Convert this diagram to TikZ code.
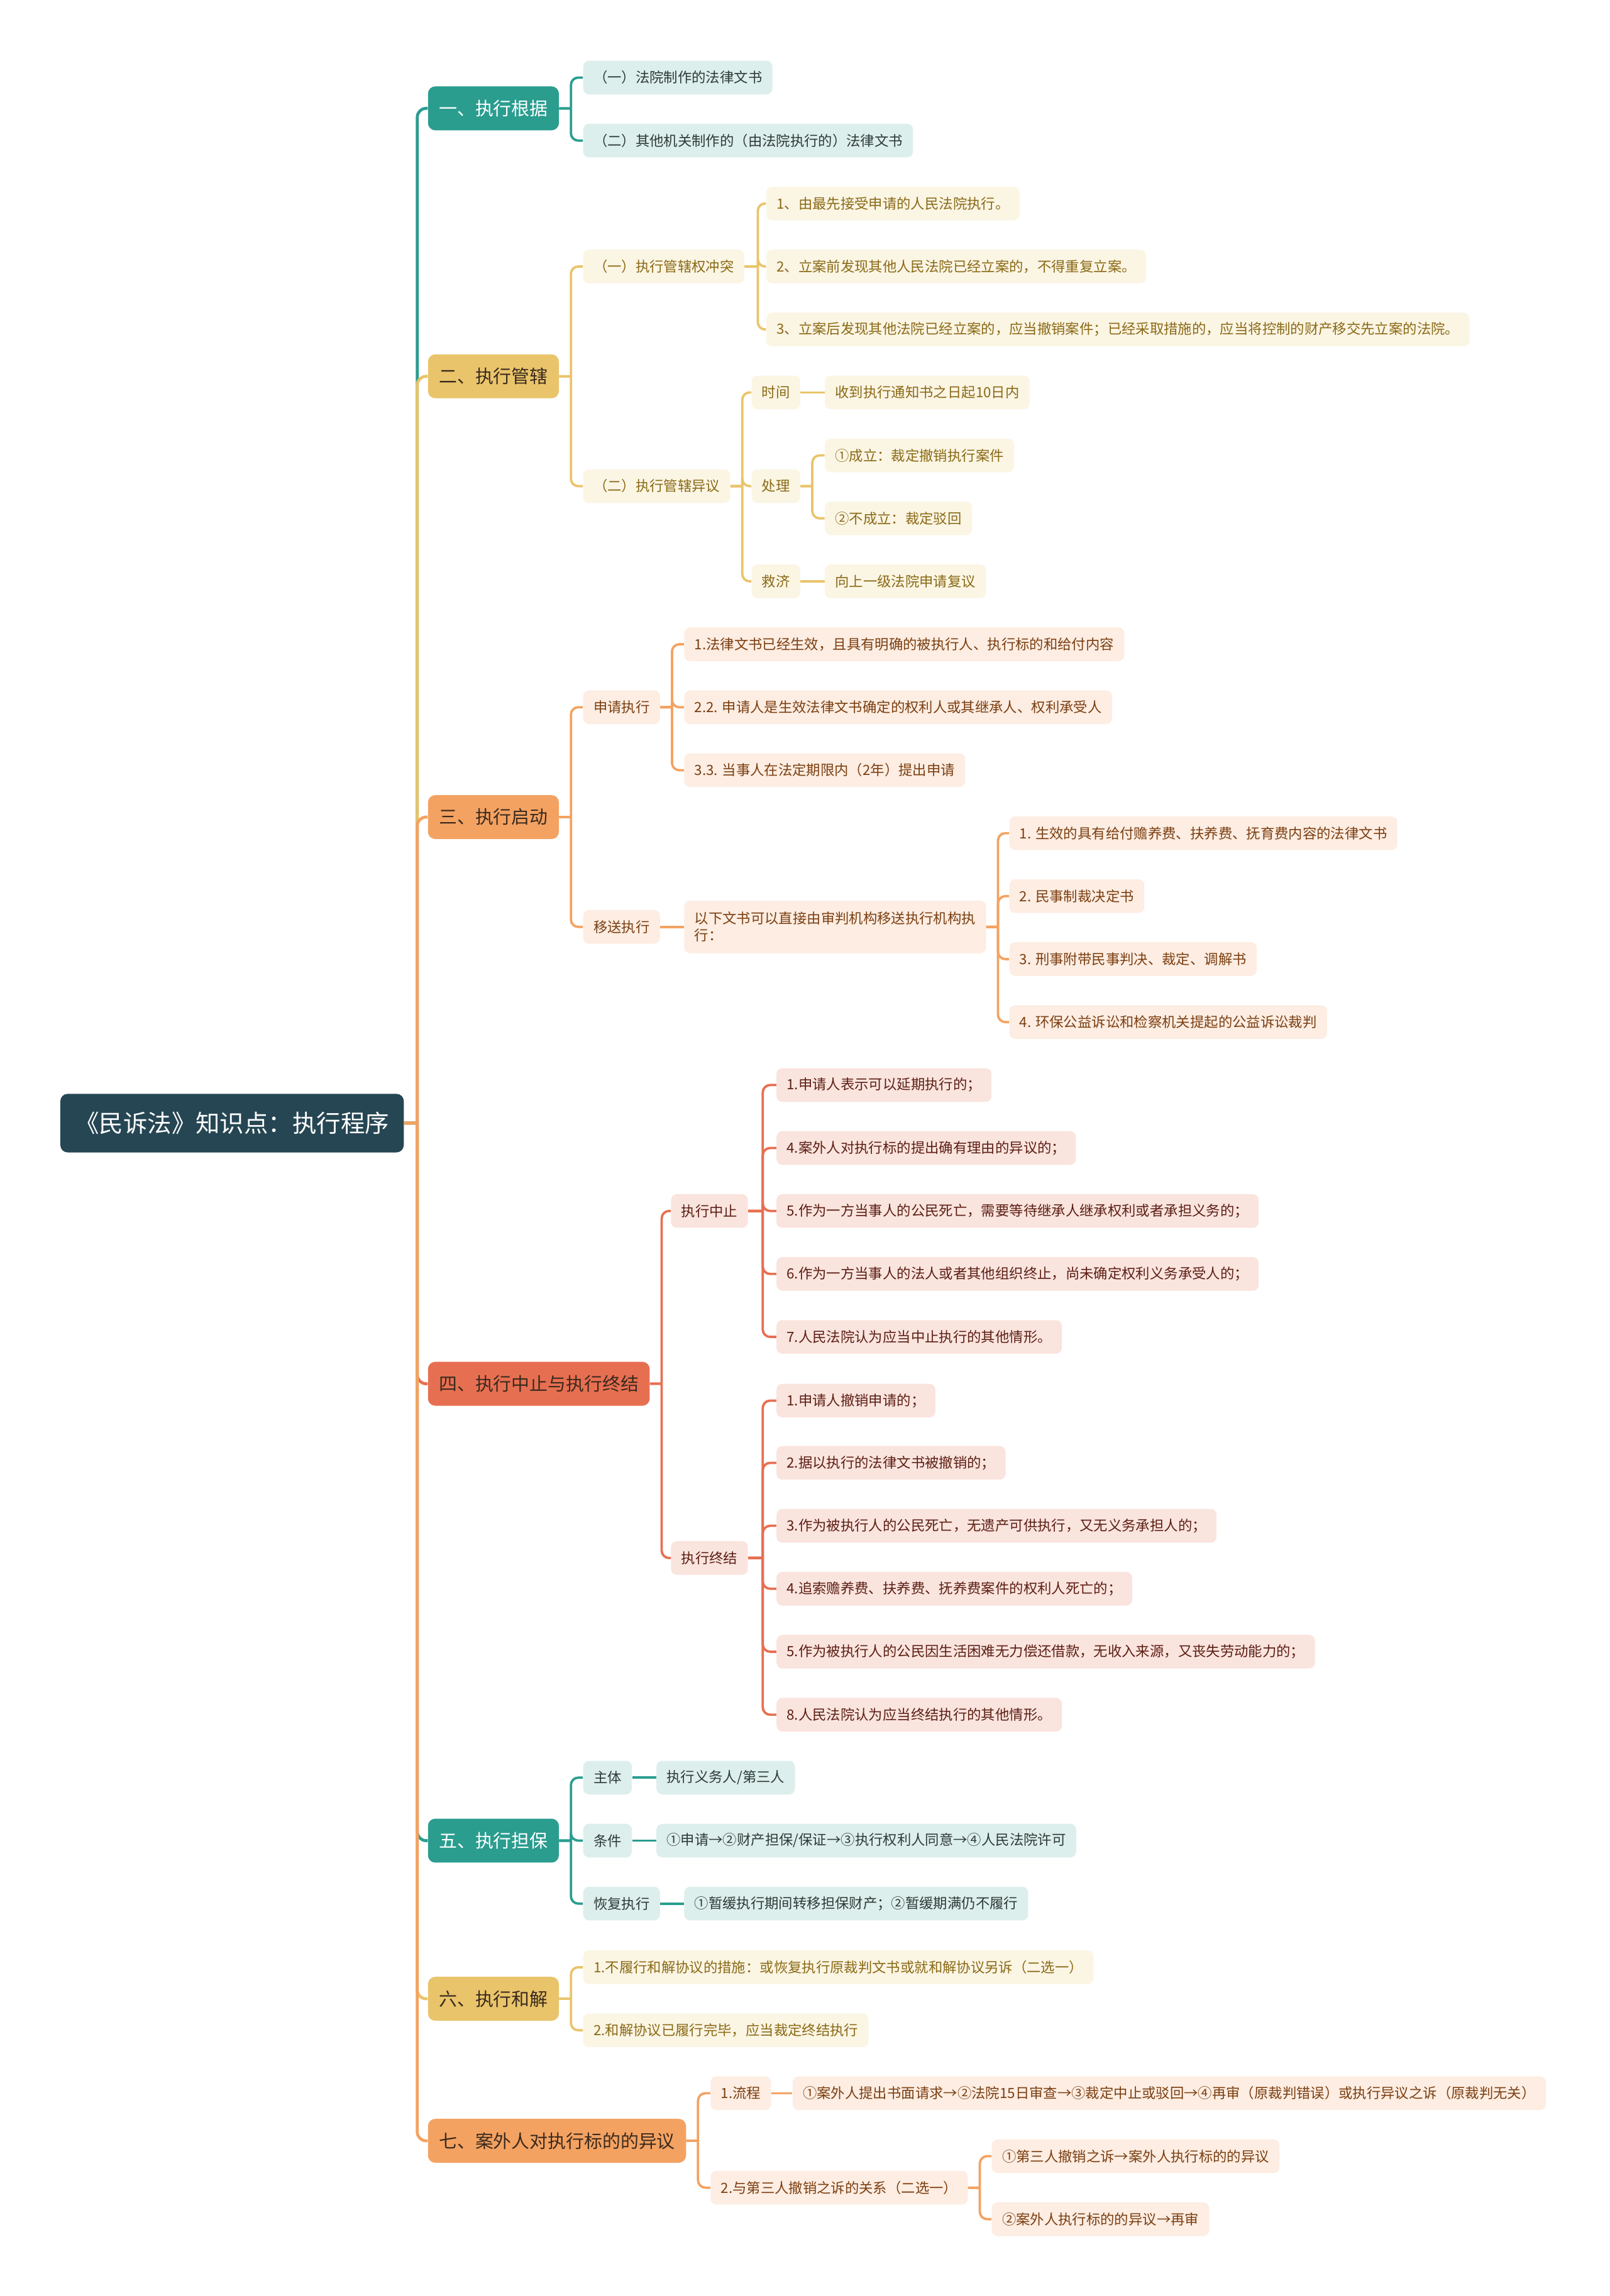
\documentclass[tikz,border=0pt]{standalone}
\usepackage{fontspec}
\setmainfont{Noto Sans CJK SC}
\usepackage{xcolor}
\usepackage{tikz}
\definecolor{rootblue}{HTML}{264653}
\definecolor{tealmain}{HTML}{2A9D8F}
\definecolor{yelmain}{HTML}{E9C46A}
\definecolor{oramain}{HTML}{F4A261}
\definecolor{redmain}{HTML}{E76F51}
\definecolor{teallight}{HTML}{DDEFEC}
\definecolor{yellight}{HTML}{FBF5E4}
\definecolor{oralight}{HTML}{FDEDE2}
\definecolor{redlight}{HTML}{FAE4DE}
\definecolor{tealtext}{HTML}{2E3A38}
\definecolor{yeltext}{HTML}{8A6A16}
\definecolor{oratext}{HTML}{7B3F12}
\definecolor{redtext}{HTML}{5C1F14}
\definecolor{maintext}{HTML}{3A2A1E}

\begin{document}
\begin{tikzpicture}[x=1pt, y=-1pt,
    every node/.style={font=\fontsize{9.6}{11.5}\selectfont, anchor=west, rounded corners=4pt, inner xsep=7pt, inner ysep=3pt, minimum height=23pt},
    rootbox/.style={fill=rootblue, text=white, font=\fontsize{16.5}{20}\selectfont, minimum height=40pt, inner xsep=10pt, rounded corners=5pt},
    mainbox/.style={fill=#1, text=maintext, font=\fontsize{12.4}{15}\selectfont, minimum height=30pt, inner xsep=7.5pt, rounded corners=5pt},
    tealleaf/.style={fill=teallight, text=tealtext},
    yelleaf/.style={fill=yellight, text=yeltext},
    oraleaf/.style={fill=oralight, text=oratext},
    redleaf/.style={fill=redlight, text=redtext},
    link/.style={draw=#1, line width=1.6pt, rounded corners=5pt},
    trunk/.style={draw=#1, line width=2pt, rounded corners=6pt}]
    \fill[white] (0,0) rectangle (1099,1568);
    \useasboundingbox (0,0) rectangle (1099,1568);

    % Root
    \node[rootbox] (root) at (41,767) {《民诉法》知识点：执行程序};

    % Main topics
    \node[mainbox=tealmain, text=white] (n1) at (292,74) {一、执行根据};
    \node[mainbox=yelmain] (n2) at (292,257) {二、执行管辖};
    \node[mainbox=oramain] (n3) at (292,558) {三、执行启动};
    \node[mainbox=redmain] (n4) at (292,945) {四、执行中止与执行终结};
    \node[mainbox=tealmain, text=white] (n5) at (292,1257) {五、执行担保};
    \node[mainbox=yelmain] (n6) at (292,1365) {六、执行和解};
    \node[mainbox=oramain] (n7) at (292,1462) {七、案外人对执行标的的异议};

    % Basis
    \node[tealleaf] (a1) at (398,53) {（一）法院制作的法律文书};
    \node[tealleaf] (a2) at (398,96) {（二）其他机关制作的（由法院执行的）法律文书};

    % Jurisdiction
    \node[yelleaf] (b1) at (398,182) {（一）执行管辖权冲突};
    \node[yelleaf] (b11) at (523,139) {1、由最先接受申请的人民法院执行。};
    \node[yelleaf] (b12) at (523,182) {2、立案前发现其他人民法院已经立案的，不得重复立案。};
    \node[yelleaf] (b13) at (523,225) {3、立案后发现其他法院已经立案的，应当撤销案件；已经采取措施的，应当将控制的财产移交先立案的法院。};
    \node[yelleaf] (b2) at (398,332) {（二）执行管辖异议};
    \node[yelleaf] (b21) at (513,268) {时间};
    \node[yelleaf] (b22) at (513,332) {处理};
    \node[yelleaf] (b23) at (513,397) {救济};
    \node[yelleaf] (b211) at (563,268) {收到执行通知书之日起10日内};
    \node[yelleaf] (b221) at (563,311) {①成立：裁定撤销执行案件};
    \node[yelleaf] (b222) at (563,354) {②不成立：裁定驳回};
    \node[yelleaf] (b231) at (563,397) {向上一级法院申请复议};

    % Start
    \node[oraleaf] (c1) at (398,483) {申请执行};
    \node[oraleaf] (c11) at (467,440) {1.法律文书已经生效，且具有明确的被执行人、执行标的和给付内容};
    \node[oraleaf] (c12) at (467,483) {2.2. 申请人是生效法律文书确定的权利人或其继承人、权利承受人};
    \node[oraleaf] (c13) at (467,526) {3.3. 当事人在法定期限内（2年）提出申请};
    \node[oraleaf] (c2) at (398,633) {移送执行};
    \node[oraleaf, align=left, minimum height=36pt] (c21) at (467,633) {以下文书可以直接由审判机构移送执行机构执\\行：};
    \node[oraleaf] (c211) at (689,569) {1. 生效的具有给付赡养费、扶养费、抚育费内容的法律文书};
    \node[oraleaf] (c212) at (689,612) {2. 民事制裁决定书};
    \node[oraleaf] (c213) at (689,655) {3. 刑事附带民事判决、裁定、调解书};
    \node[oraleaf] (c214) at (689,698) {4. 环保公益诉讼和检察机关提起的公益诉讼裁判};

    % Suspension and termination
    \node[redleaf] (d1) at (458,827) {执行中止};
    \node[redleaf] (d11) at (530,741) {1.申请人表示可以延期执行的；};
    \node[redleaf] (d12) at (530,784) {4.案外人对执行标的提出确有理由的异议的；};
    \node[redleaf] (d13) at (530,827) {5.作为一方当事人的公民死亡，需要等待继承人继承权利或者承担义务的；};
    \node[redleaf] (d14) at (530,870) {6.作为一方当事人的法人或者其他组织终止，尚未确定权利义务承受人的；};
    \node[redleaf] (d15) at (530,913) {7.人民法院认为应当中止执行的其他情形。};
    \node[redleaf] (d2) at (458,1064) {执行终结};
    \node[redleaf] (d21) at (530,956.5) {1.申请人撤销申请的；};
    \node[redleaf] (d22) at (530,999) {2.据以执行的法律文书被撤销的；};
    \node[redleaf] (d23) at (530,1042) {3.作为被执行人的公民死亡，无遗产可供执行，又无义务承担人的；};
    \node[redleaf] (d24) at (530,1085) {4.追索赡养费、扶养费、抚养费案件的权利人死亡的；};
    \node[redleaf] (d25) at (530,1128) {5.作为被执行人的公民因生活困难无力偿还借款，无收入来源，又丧失劳动能力的；};
    \node[redleaf] (d26) at (530,1171) {8.人民法院认为应当终结执行的其他情形。};

    % Guarantee
    \node[tealleaf] (e1) at (398,1214) {主体};
    \node[tealleaf] (e11) at (448,1214) {执行义务人/第三人};
    \node[tealleaf] (e2) at (398,1257) {条件};
    \node[tealleaf] (e21) at (448,1257) {①申请→②财产担保/保证→③执行权利人同意→④人民法院许可};
    \node[tealleaf] (e3) at (398,1300) {恢复执行};
    \node[tealleaf] (e31) at (467,1300) {①暂缓执行期间转移担保财产；②暂缓期满仍不履行};

    % Settlement
    \node[yelleaf] (f1) at (398,1343.5) {1.不履行和解协议的措施：或恢复执行原裁判文书或就和解协议另诉（二选一）};
    \node[yelleaf] (f2) at (398,1386.5) {2.和解协议已履行完毕，应当裁定终结执行};

    % Objection
    \node[oraleaf] (g1) at (485,1429.5) {1.流程};
    \node[oraleaf] (g11) at (541,1429.5) {①案外人提出书面请求→②法院15日审查→③裁定中止或驳回→④再审（原裁判错误）或执行异议之诉（原裁判无关）};
    \node[oraleaf] (g2) at (485,1494) {2.与第三人撤销之诉的关系（二选一）};
    \node[oraleaf] (g21) at (677,1472.5) {①第三人撤销之诉→案外人执行标的的异议};
    \node[oraleaf] (g22) at (677,1515.5) {②案外人执行标的的异议→再审};

    % Trunk connectors
    \draw[trunk=tealmain] (root.east) -- ++(9,0) ++(0,0) |- (n1.west);
    \draw[trunk=yelmain] (root.east) -- ++(9,0) ++(0,0) |- (n2.west);
    \draw[trunk=oramain] (root.east) -- ++(9,0) ++(0,0) |- (n3.west);
    \draw[trunk=redmain] (root.east) -- ++(9,0) ++(0,0) |- (n4.west);
    \draw[trunk=tealmain] (root.east) -- ++(9,0) ++(0,0) |- (n5.west);
    \draw[trunk=yelmain] (root.east) -- ++(9,0) ++(0,0) |- (n6.west);
    \draw[trunk=oramain] (root.east) -- ++(9,0) ++(0,0) |- (n7.west);

    % Branch connectors
    \draw[link=tealmain] (n1.east) -- ++(8,0) ++(0,0) |- (a1.west);
    \draw[link=tealmain] (n1.east) -- ++(8,0) ++(0,0) |- (a2.west);

    \draw[link=yelmain] (n2.east) -- ++(8,0) ++(0,0) |- (b1.west);
    \draw[link=yelmain] (n2.east) -- ++(8,0) ++(0,0) |- (b2.west);
    \draw[link=yelmain] (b1.east) -- ++(9,0) ++(0,0) |- (b11.west);
    \draw[link=yelmain] (b1.east) -- ++(9,0) ++(0,0) |- (b12.west);
    \draw[link=yelmain] (b1.east) -- ++(9,0) ++(0,0) |- (b13.west);
    \draw[link=yelmain] (b2.east) -- ++(8,0) ++(0,0) |- (b21.west);
    \draw[link=yelmain] (b2.east) -- ++(8,0) ++(0,0) |- (b22.west);
    \draw[link=yelmain] (b2.east) -- ++(8,0) ++(0,0) |- (b23.west);
    \draw[link=yelmain] (b21.east) -- (b211.west);
    \draw[link=yelmain] (b22.east) -- ++(8,0) ++(0,0) |- (b221.west);
    \draw[link=yelmain] (b22.east) -- ++(8,0) ++(0,0) |- (b222.west);
    \draw[link=yelmain] (b23.east) -- (b231.west);

    \draw[link=oramain] (n3.east) -- ++(8,0) ++(0,0) |- (c1.west);
    \draw[link=oramain] (n3.east) -- ++(8,0) ++(0,0) |- (c2.west);
    \draw[link=oramain] (c1.east) -- ++(8,0) ++(0,0) |- (c11.west);
    \draw[link=oramain] (c1.east) -- ++(8,0) ++(0,0) |- (c12.west);
    \draw[link=oramain] (c1.east) -- ++(8,0) ++(0,0) |- (c13.west);
    \draw[link=oramain] (c2.east) -- (c21.west);
    \draw[link=oramain] (c21.east) -- ++(8,0) ++(0,0) |- (c211.west);
    \draw[link=oramain] (c21.east) -- ++(8,0) ++(0,0) |- (c212.west);
    \draw[link=oramain] (c21.east) -- ++(8,0) ++(0,0) |- (c213.west);
    \draw[link=oramain] (c21.east) -- ++(8,0) ++(0,0) |- (c214.west);

    \draw[link=redmain] (n4.east) -- ++(8,0) ++(0,0) |- (d1.west);
    \draw[link=redmain] (n4.east) -- ++(8,0) ++(0,0) |- (d2.west);
    \draw[link=redmain] (d1.east) -- ++(10,0) ++(0,0) |- (d11.west);
    \draw[link=redmain] (d1.east) -- ++(10,0) ++(0,0) |- (d12.west);
    \draw[link=redmain] (d1.east) -- ++(10,0) ++(0,0) |- (d13.west);
    \draw[link=redmain] (d1.east) -- ++(10,0) ++(0,0) |- (d14.west);
    \draw[link=redmain] (d1.east) -- ++(10,0) ++(0,0) |- (d15.west);
    \draw[link=redmain] (d2.east) -- ++(10,0) ++(0,0) |- (d21.west);
    \draw[link=redmain] (d2.east) -- ++(10,0) ++(0,0) |- (d22.west);
    \draw[link=redmain] (d2.east) -- ++(10,0) ++(0,0) |- (d23.west);
    \draw[link=redmain] (d2.east) -- ++(10,0) ++(0,0) |- (d24.west);
    \draw[link=redmain] (d2.east) -- ++(10,0) ++(0,0) |- (d25.west);
    \draw[link=redmain] (d2.east) -- ++(10,0) ++(0,0) |- (d26.west);

    \draw[link=tealmain] (n5.east) -- ++(8,0) ++(0,0) |- (e1.west);
    \draw[link=tealmain] (n5.east) -- ++(8,0) ++(0,0) |- (e2.west);
    \draw[link=tealmain] (n5.east) -- ++(8,0) ++(0,0) |- (e3.west);
    \draw[link=tealmain] (e1.east) -- (e11.west);
    \draw[link=tealmain] (e2.east) -- (e21.west);
    \draw[link=tealmain] (e3.east) -- (e31.west);

    \draw[link=yelmain] (n6.east) -- ++(8,0) ++(0,0) |- (f1.west);
    \draw[link=yelmain] (n6.east) -- ++(8,0) ++(0,0) |- (f2.west);

    \draw[link=oramain] (n7.east) -- ++(8,0) ++(0,0) |- (g1.west);
    \draw[link=oramain] (n7.east) -- ++(8,0) ++(0,0) |- (g2.west);
    \draw[link=oramain] (g1.east) -- (g11.west);
    \draw[link=oramain] (g2.east) -- ++(8,0) ++(0,0) |- (g21.west);
    \draw[link=oramain] (g2.east) -- ++(8,0) ++(0,0) |- (g22.west);
\end{tikzpicture}
\end{document}
